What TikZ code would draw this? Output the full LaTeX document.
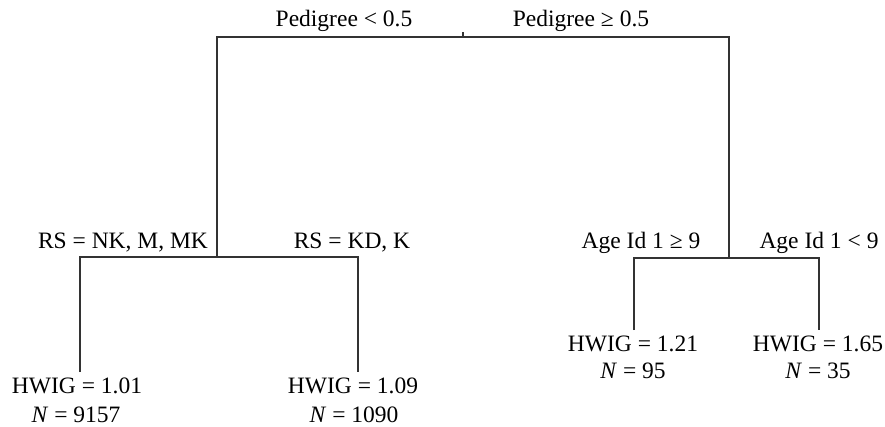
\documentclass[tikz,border=0pt]{standalone}
\usepackage{fontspec}
\setmainfont{Liberation Serif}
\begin{document}
\begin{tikzpicture}[x=1pt,y=-1pt,
  lab/.style={font=\fontsize{23.5}{28}\selectfont, inner sep=0pt, anchor=base},
  leaf/.style={font=\fontsize{23.5}{28}\selectfont, inner xsep=0pt, inner ysep=5pt, anchor=base},
  edge/.style={draw=black!80, line width=1.1pt}]
\useasboundingbox (0,0) rectangle (885,426);
% junctions
\coordinate (top) at (463,32);
\coordinate (r) at (463,37);
\coordinate (L) at (217,37);
\coordinate (R) at (729,37);
\coordinate (Lj) at (217,257);
\coordinate (Rj) at (729,258);
\coordinate (LL) at (80,257);
\coordinate (LR) at (358,257);
\coordinate (RL) at (634,258);
\coordinate (RR) at (819,258);
% labels
\node[lab] (p1) at (344,26) {Pedigree < 0.5};
\node[lab] (p2) at (581,26) {Pedigree ≥ 0.5};
\node[lab] (s1) at (123,248) {RS = NK, M, MK};
\node[lab] (s2) at (352,248) {RS = KD, K};
\node[lab] (a1) at (641,248) {Age Id 1 ≥ 9};
\node[lab] (a2) at (819,248) {Age Id 1 < 9};
% leaves
\node[leaf] (l1) at (77,393) {HWIG = 1.01};
\node[lab] (n1) at (76,422) {\textit{N} = 9157};
\node[leaf] (l2) at (353,393) {HWIG = 1.09};
\node[lab] (n2) at (354,422) {\textit{N} = 1090};
\node[leaf] (l3) at (633,351) {HWIG = 1.21};
\node[lab] (n3) at (633,378) {\textit{N} = 95};
\node[leaf] (l4) at (818,351) {HWIG = 1.65};
\node[lab] (n4) at (818,378) {\textit{N} = 35};
% tree
\draw[edge] (top) -- (r);
\draw[edge] (Lj) -- (L) -- (R) -- (Rj);
\draw[edge] (Lj) -- (Lj |- LL);
\draw[edge] (LL |- l1.north) -- (LL) -- (LR) -- (LR |- l2.north);
\draw[edge] (RL |- l3.north) -- (RL) -- (RR) -- (RR |- l4.north);
\end{tikzpicture}
\end{document}
